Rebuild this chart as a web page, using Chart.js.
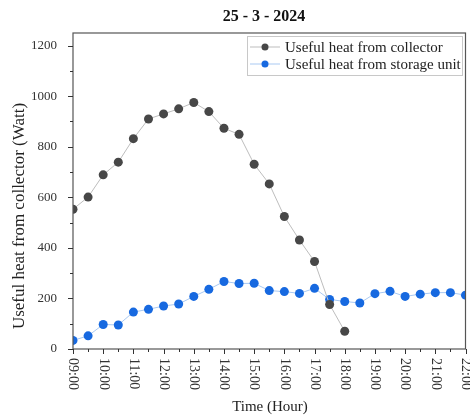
<!DOCTYPE html>
<html lang="en">
<head>
<meta charset="UTF-8">
<title>25 - 3 - 2024</title>
<script src="https://cdn.jsdelivr.net/npm/chart.js"></script>
<style>
    body { margin: 0; background: #fff; }
    #wrap { width: 470px; height: 416px; }
</style>
</head>
<body>
<div id="wrap"><canvas id="heatChart" width="470" height="416"></canvas></div>
<script>
// hours as decimal (9.5 = 09:30)
const collectorHours = [9, 9.5, 10, 10.5, 11, 11.5, 12, 12.5, 13, 13.5, 14, 14.5, 15, 15.5, 16, 16.5, 17, 17.5, 18];
const collectorHeat = [553, 601, 689, 739, 832, 910, 930, 950, 975, 939, 873, 849, 731, 653, 524, 431, 346, 176, 70];

const storageHours = [9, 9.5, 10, 10.5, 11, 11.5, 12, 12.5, 13, 13.5, 14, 14.5, 15, 15.5, 16, 16.5, 17, 17.5, 18, 18.5, 19, 19.5, 20, 20.5, 21, 21.5, 22];
const storageHeat = [34, 52, 97, 95, 146, 157, 170, 178, 208, 236, 267, 259, 260, 231, 227, 220, 240, 196, 188, 182, 219, 228, 208, 217, 223, 223, 213];

const hourLabels = ['09:00', '10:00', '11:00', '12:00', '13:00', '14:00', '15:00', '16:00', '17:00', '18:00', '19:00', '20:00', '21:00', '22:00'];
const heatTicks = [0, 200, 400, 600, 800, 1000, 1200];
const seriesNames = ['Useful heat from collector', 'Useful heat from storage unit'];

const serif = '"Liberation Serif", "Times New Roman", serif';
const grayPt = '#474747', grayLine = '#bdbdbd';
const bluePt = '#1769e0', blueLine = '#a9c9f2';

function toPoints(xs, ys) {
    return xs.map((x, i) => ({ x: x, y: ys[i] }));
}

// frame, ticks, rotated hour labels, titles and legend
const decor = {
    id: 'decor',
    afterDraw(chart) {
        const ctx = chart.ctx;
        const a = chart.chartArea;
        const xs = chart.scales.x, ys = chart.scales.y;
        ctx.save();
        ctx.strokeStyle = '#555';
        ctx.lineWidth = 1.2;
        ctx.strokeRect(a.left, a.top, a.right - a.left, a.bottom - a.top);

        ctx.strokeStyle = '#333';
        ctx.lineWidth = 1;
        for (let v = 0; v <= 1200; v += 100) {
            const y = Math.round(ys.getPixelForValue(v)) + 0.5;
            const len = v % 200 === 0 ? 5 : 3;
            ctx.beginPath();
            ctx.moveTo(a.left - len, y);
            ctx.lineTo(a.left, y);
            ctx.stroke();
        }
        for (let h = 9; h <= 22; h += 0.5) {
            const x = Math.round(xs.getPixelForValue(h)) + 0.5;
            const len = h % 1 === 0 ? 5 : 3;
            ctx.beginPath();
            ctx.moveTo(x, a.bottom);
            ctx.lineTo(x, a.bottom + len);
            ctx.stroke();
        }

        // hour labels, read top to bottom
        ctx.fillStyle = '#333';
        ctx.font = '14px ' + serif;
        ctx.textAlign = 'left';
        ctx.textBaseline = 'middle';
        hourLabels.forEach((lab, i) => {
            const x = xs.getPixelForValue(9 + i);
            ctx.save();
            ctx.translate(x, a.bottom + 9);
            ctx.rotate(Math.PI / 2);
            ctx.fillText(lab, 0, 0);
            ctx.restore();
        });

        // title above the plot
        ctx.font = 'bold 16px ' + serif;
        ctx.textAlign = 'center';
        ctx.fillStyle = '#111';
        ctx.fillText('25 - 3 - 2024', 264, 17);

        // axis titles
        ctx.font = '15px ' + serif;
        ctx.fillStyle = '#222';
        ctx.fillText('Time (Hour)', 270, 407);
        ctx.save();
        ctx.translate(20, 216);
        ctx.rotate(-Math.PI / 2);
        ctx.font = '17px ' + serif;
        ctx.fillText('Useful heat from collector (Watt)', 0, 0);
        ctx.restore();

        // legend box
        const lx = 247, ly = 36, lw = 215, lh = 39;
        ctx.fillStyle = '#fff';
        ctx.fillRect(lx, ly, lw, lh);
        ctx.strokeStyle = '#c8c8c8';
        ctx.strokeRect(lx + 0.5, ly + 0.5, lw, lh);
        const rows = [[grayLine, grayPt], [blueLine, bluePt]];
        rows.forEach((c, i) => {
            const y = ly + 11 + i * 17;
            ctx.strokeStyle = c[0];
            ctx.beginPath();
            ctx.moveTo(lx + 3, y);
            ctx.lineTo(lx + 33, y);
            ctx.stroke();
            ctx.fillStyle = c[1];
            ctx.beginPath();
            ctx.arc(lx + 18, y, 3.5, 0, Math.PI * 2);
            ctx.fill();
            ctx.fillStyle = '#222';
            ctx.font = '15px ' + serif;
            ctx.textAlign = 'left';
            ctx.fillText(seriesNames[i], lx + 38, y + 1);
        });
        ctx.restore();
    }
};

new Chart(document.getElementById('heatChart'), {
    type: 'line',
    data: {
        datasets: [{
            label: seriesNames[0],
            data: toPoints(collectorHours, collectorHeat),
            borderColor: grayLine,
            borderWidth: 1,
            pointRadius: 4.5,
            pointBackgroundColor: grayPt,
            pointBorderWidth: 0,
            order: 1
        }, {
            label: seriesNames[1],
            data: toPoints(storageHours, storageHeat),
            borderColor: blueLine,
            borderWidth: 1,
            pointRadius: 4.5,
            pointBackgroundColor: bluePt,
            pointBorderWidth: 0,
            order: 2
        }]
    },
    options: {
        responsive: false,
        animation: false,
        layout: { padding: { top: 33, right: 4, left: 0, bottom: 0 } },
        plugins: {
            legend: { display: false },
            tooltip: { enabled: false }
        },
        scales: {
            x: {
                type: 'linear',
                min: 9,
                max: 22,
                grid: { display: false },
                border: { display: false },
                ticks: { display: false },
                afterFit(s) { s.height = 67; }
            },
            y: {
                min: 0,
                max: 1250,
                grid: { display: false },
                border: { display: false },
                afterBuildTicks(s) { s.ticks = heatTicks.map(v => ({ value: v })); },
                ticks: {
                    color: '#333',
                    padding: 8,
                    font: { family: serif, size: 13 },
                    callback: v => String(v)
                },
                afterFit(s) { s.width = 73; }
            }
        }
    },
    plugins: [decor]
});
</script>
</body>
</html>
